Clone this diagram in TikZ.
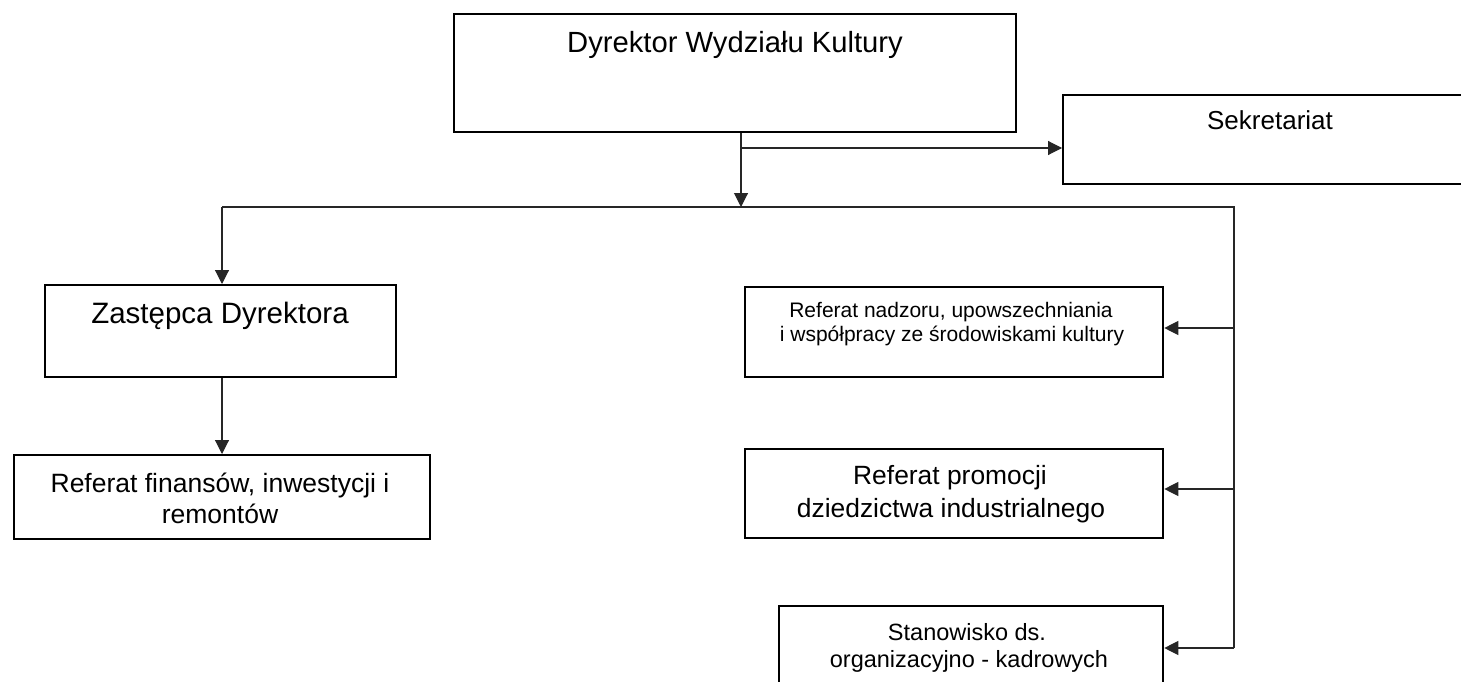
\documentclass[tikz,border=0pt]{standalone}
\usepackage{fontspec}
\setmainfont{Liberation Sans}
\usetikzlibrary{arrows.meta}
\begin{document}
\begin{tikzpicture}[x=1pt,y=-1pt,
  box/.style={draw=black,line width=2.3pt,inner sep=0pt,anchor=north west},
  lbl/.style={anchor=base,inner sep=0pt},
  conn/.style={draw=black!85,line width=1.1pt},
  arr/.style={conn,-{Triangle[length=14pt,width=14pt]}}]
\useasboundingbox (0,0) rectangle (1461,682);
\fill[white] (0,0) rectangle (1461,682);
% boxes
\node[box,minimum width=562pt,minimum height=118pt] (dyr) at (453,13) {};
\node[box,minimum width=420pt,minimum height=89pt] (sek) at (1062,94) {};
\node[box,minimum width=351pt,minimum height=92pt] (zas) at (44,284) {};
\node[box,minimum width=416pt,minimum height=84pt] (fin) at (13,454) {};
\node[box,minimum width=418pt,minimum height=90pt] (nad) at (744,286) {};
\node[box,minimum width=418pt,minimum height=89pt] (pro) at (744,448) {};
\node[box,minimum width=384pt,minimum height=100pt] (sta) at (778,605) {};
% texts
\node[lbl,font=\fontsize{29.2}{35}\selectfont] (tdyr) at (735,53) {Dyrektor Wydziału Kultury};
\node[lbl,font=\fontsize{26}{31}\selectfont] (tsek) at (1270,130) {Sekretariat};
\node[lbl,font=\fontsize{29.5}{35}\selectfont] (tzas) at (220,323) {Zastępca Dyrektora};
\node[lbl,font=\fontsize{26.5}{32}\selectfont] (tfin1) at (220,492) {Referat finansów, inwestycji i};
\node[lbl,font=\fontsize{26.5}{32}\selectfont] (tfin2) at (220,523) {remontów};
\node[lbl,font=\fontsize{21}{24}\selectfont] (tnad1) at (951,317) {Referat nadzoru, upowszechniania};
\node[lbl,font=\fontsize{21}{24}\selectfont] (tnad2) at (952,341) {i współpracy ze środowiskami kultury};
\node[lbl,font=\fontsize{26.4}{32}\selectfont] (tpro1) at (950,484) {Referat promocji};
\node[lbl,font=\fontsize{26.4}{32}\selectfont] (tpro2) at (951,517) {dziedzictwa industrialnego};
\node[lbl,font=\fontsize{23.5}{27}\selectfont] (tsta1) at (967,640) {Stanowisko ds.};
\node[lbl,font=\fontsize{23.5}{27}\selectfont] (tsta2) at (969,667) {organizacyjno - kadrowych};
% junctions
\coordinate (jtop) at (741,207);
\coordinate (jsek) at (741,148);
\coordinate (jleft) at (222,207);
\coordinate (jright) at (1234,207);
\coordinate (jnad) at (1234,328);
\coordinate (jpro) at (1234,489);
\coordinate (jsta) at (1234,648);
% connectors
\draw[arr] (dyr.south -| jtop) -- (jtop);
\draw[arr] (jsek) -- (sek.west |- jsek);
\draw[conn] (jleft) -- (jright) -- (jsta);
\draw[arr] (jleft) -- (zas.north -| jleft);
\draw[arr] (zas.south -| jleft) -- (fin.north -| jleft);
\draw[arr] (jnad) -- (nad.east |- jnad);
\draw[arr] (jpro) -- (pro.east |- jpro);
\draw[arr] (jsta) -- (sta.east |- jsta);
\end{tikzpicture}
\end{document}
